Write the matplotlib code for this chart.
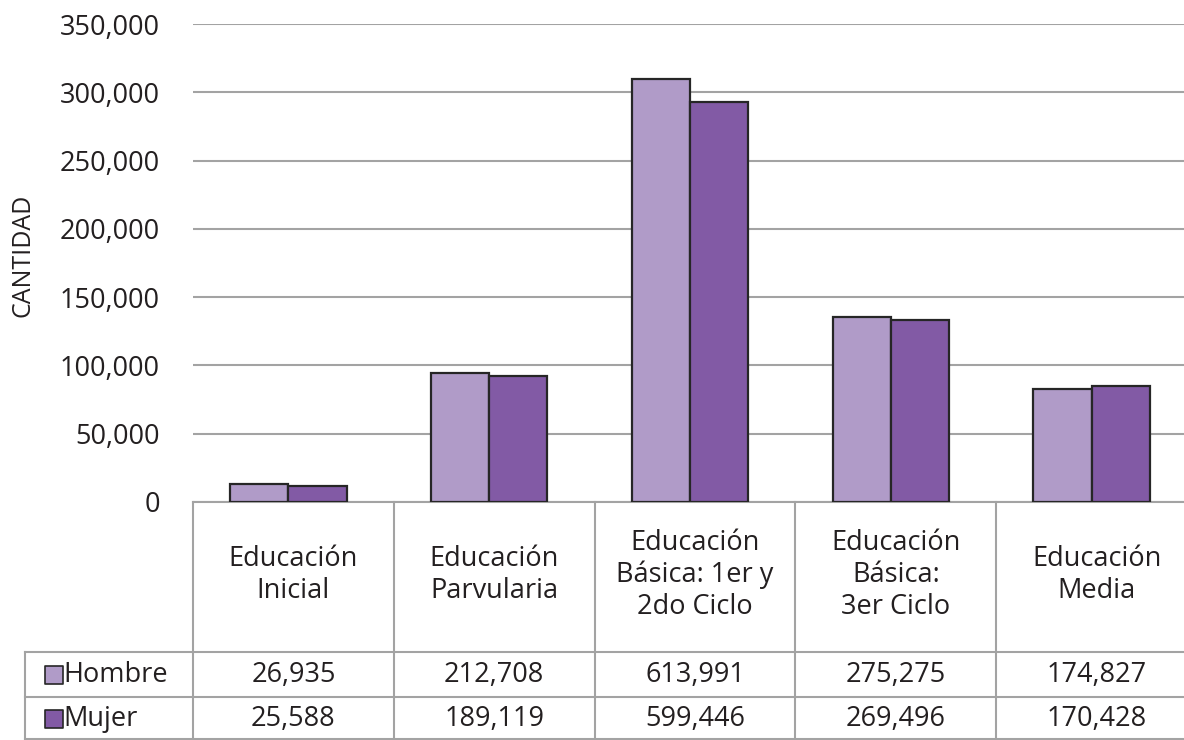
import numpy as np
import matplotlib
matplotlib.use("Agg")
import matplotlib.pyplot as plt

plt.rcParams['font.family'] = ['Open Sans', 'DejaVu Sans']

categorias = ["Educación\nInicial", "Educación\nParvularia", "Educación\nBásica: 1er y\n2do Ciclo",
              "Educación\nBásica:\n3er Ciclo", "Educación\nMedia"]
series = ["Hombre", "Mujer"]
# alturas de barra
hombre = [13200, 94100, 309500, 135800, 82800]
mujer = [11500, 92100, 293100, 133100, 85300]
# valores de la tabla de datos
tabla_hombre = ["26,935", "212,708", "613,991", "275,275", "174,827"]
tabla_mujer = ["25,588", "189,119", "599,446", "269,496", "170,428"]
yticks = [0, 50000, 100000, 150000, 200000, 250000, 300000, 350000]

c_hombre = "#b09bc8"
c_mujer = "#825aa5"
c_borde = "#262626"
c_linea = "#a3a3a3"
c_texto = "#231f20"
fs = 19.5

W, H = 1184, 740
fig = plt.figure(figsize=(W / 100, H / 100), dpi=100)
x0, x1, ytop, ybase = 193, 1197, 24, 502
ax = fig.add_axes([x0 / W, (H - ybase) / H, (x1 - x0) / W, (ybase - ytop) / H])
ax.set_xlim(0, 5)
ax.set_ylim(0, 350000)
ax.set_yticks(yticks)
ax.set_yticklabels([f"{v:,}" for v in yticks], fontsize=fs, color=c_texto)
ax.tick_params(axis='y', length=0, pad=24)
ax.set_xticks([])
for s in ax.spines.values():
    s.set_visible(False)
ax.yaxis.grid(True, color=c_linea, linewidth=1.5)
ax.set_axisbelow(True)
ax.set_ylabel("CANTIDAD", fontsize=18, color=c_texto)
ax.yaxis.set_label_coords(-157 / (x1 - x0), (ybase - 255) / (ybase - ytop))

x = np.arange(5) + 0.475
w = 0.29
ax.bar(x - w / 2, hombre, w, color=c_hombre, edgecolor=c_borde, linewidth=1.6, zorder=3)
ax.bar(x + w / 2, mujer, w, color=c_mujer, edgecolor=c_borde, linewidth=1.6, zorder=3)

# tabla de datos bajo el eje
tr = ax.get_xaxis_transform()
def fy(ypix):
    return (ybase - ypix) / (ybase - ytop)
def dx(xpix):
    return (xpix - x0) / ((x1 - x0) / 5)

kw = dict(transform=tr, clip_on=False, color=c_linea, linewidth=1.5)
ax.plot([0, 5], [fy(ybase), fy(ybase)], **kw)
for yy in (652, 697, 739):
    ax.plot([dx(25), 5], [fy(yy), fy(yy)], **kw)
ax.plot([0, 0], [fy(ybase), fy(740)], **kw)
ax.plot([dx(25), dx(25)], [fy(652), fy(740)], **kw)
for i in range(1, 5):
    ax.plot([i, i], [fy(ybase), fy(740)], **kw)

for i, cat in enumerate(categorias):
    ax.text(i + 0.5, fy(575), cat, transform=tr, ha='center', va='center',
            fontsize=fs, color=c_texto, linespacing=1.18)
    ax.text(i + 0.5, fy(675), tabla_hombre[i], transform=tr, ha='center', va='center',
            fontsize=fs, color=c_texto)
    ax.text(i + 0.5, fy(719), tabla_mujer[i], transform=tr, ha='center', va='center',
            fontsize=fs, color=c_texto)

for nombre, col, yy in ((series[0], c_hombre, 675), (series[1], c_mujer, 719)):
    ax.scatter([dx(54)], [fy(yy)], s=170, marker='s', color=col, edgecolor=c_borde,
               linewidth=1.2, transform=tr, clip_on=False)
    ax.text(dx(63), fy(yy), nombre, transform=tr, ha='left', va='center',
            fontsize=fs, color=c_texto)

fig.savefig("out.png", dpi=100)
